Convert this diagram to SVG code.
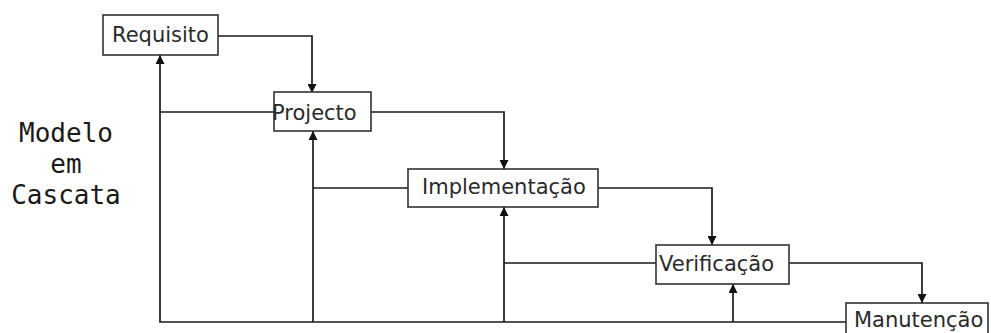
<svg xmlns="http://www.w3.org/2000/svg" width="991" height="333" viewBox="0 0 991 333">
  <defs>
    <marker id="arr" viewBox="0 0 10 10" refX="10" refY="5" markerWidth="12" markerHeight="9" markerUnits="userSpaceOnUse" orient="auto">
      <path d="M0,0 L10,5 L0,10 z" fill="#111"/>
    </marker>
  </defs>
  <style>
    .box { fill: #fff; stroke: #333; stroke-width: 1.6; }
    .lbl { font-family: "DejaVu Sans", "Liberation Sans", sans-serif; font-size: 21px; fill: #2a2a2a; }
    .conn { fill: none; stroke: #1a1a1a; stroke-width: 1.7; }
    .title { font-family: "DejaVu Sans Mono", "Liberation Mono", monospace; font-size: 26px; fill: #1a1a1a; text-anchor: middle; }
  </style>
  <rect width="991" height="333" fill="#fff"/>

  <g id="connectors">
    <path class="conn" d="M218,36 H312 V93" marker-end="url(#arr)"/>
    <path class="conn" d="M371,112 H504 V169" marker-end="url(#arr)"/>
    <path class="conn" d="M598,188 H712 V245" marker-end="url(#arr)"/>
    <path class="conn" d="M789,263 H922 V303" marker-end="url(#arr)"/>
    <path class="conn" d="M846,322 H160 V55" marker-end="url(#arr)"/>
    <path class="conn" d="M274,112 H160"/>
    <path class="conn" d="M313,322 V131" marker-end="url(#arr)"/>
    <path class="conn" d="M408,188 H313"/>
    <path class="conn" d="M504,322 V207" marker-end="url(#arr)"/>
    <path class="conn" d="M656,263 H504"/>
    <path class="conn" d="M733,322 V284" marker-end="url(#arr)"/>
  </g>

  <g id="requisito">
    <rect class="box" x="103" y="15" width="115" height="40"/>
    <text class="lbl" x="112" y="42">Requisito</text>
  </g>
  <g id="projecto">
    <rect class="box" x="274" y="92" width="97" height="39"/>
    <text class="lbl" x="272" y="120">Projecto</text>
  </g>
  <g id="implementacao">
    <rect class="box" x="408" y="169" width="190" height="38"/>
    <text class="lbl" x="422" y="194">Implementação</text>
  </g>
  <g id="verificacao">
    <rect class="box" x="656" y="245" width="133" height="39"/>
    <text class="lbl" x="659" y="271">Verificação</text>
  </g>
  <g id="manutencao">
    <rect class="box" x="846" y="303" width="142" height="40"/>
    <text class="lbl" x="854" y="327">Manutenção</text>
  </g>

  <g id="title">
    <text class="title" x="66" y="142">Modelo</text>
    <text class="title" x="66" y="173">em</text>
    <text class="title" x="66" y="204">Cascata</text>
  </g>
</svg>
